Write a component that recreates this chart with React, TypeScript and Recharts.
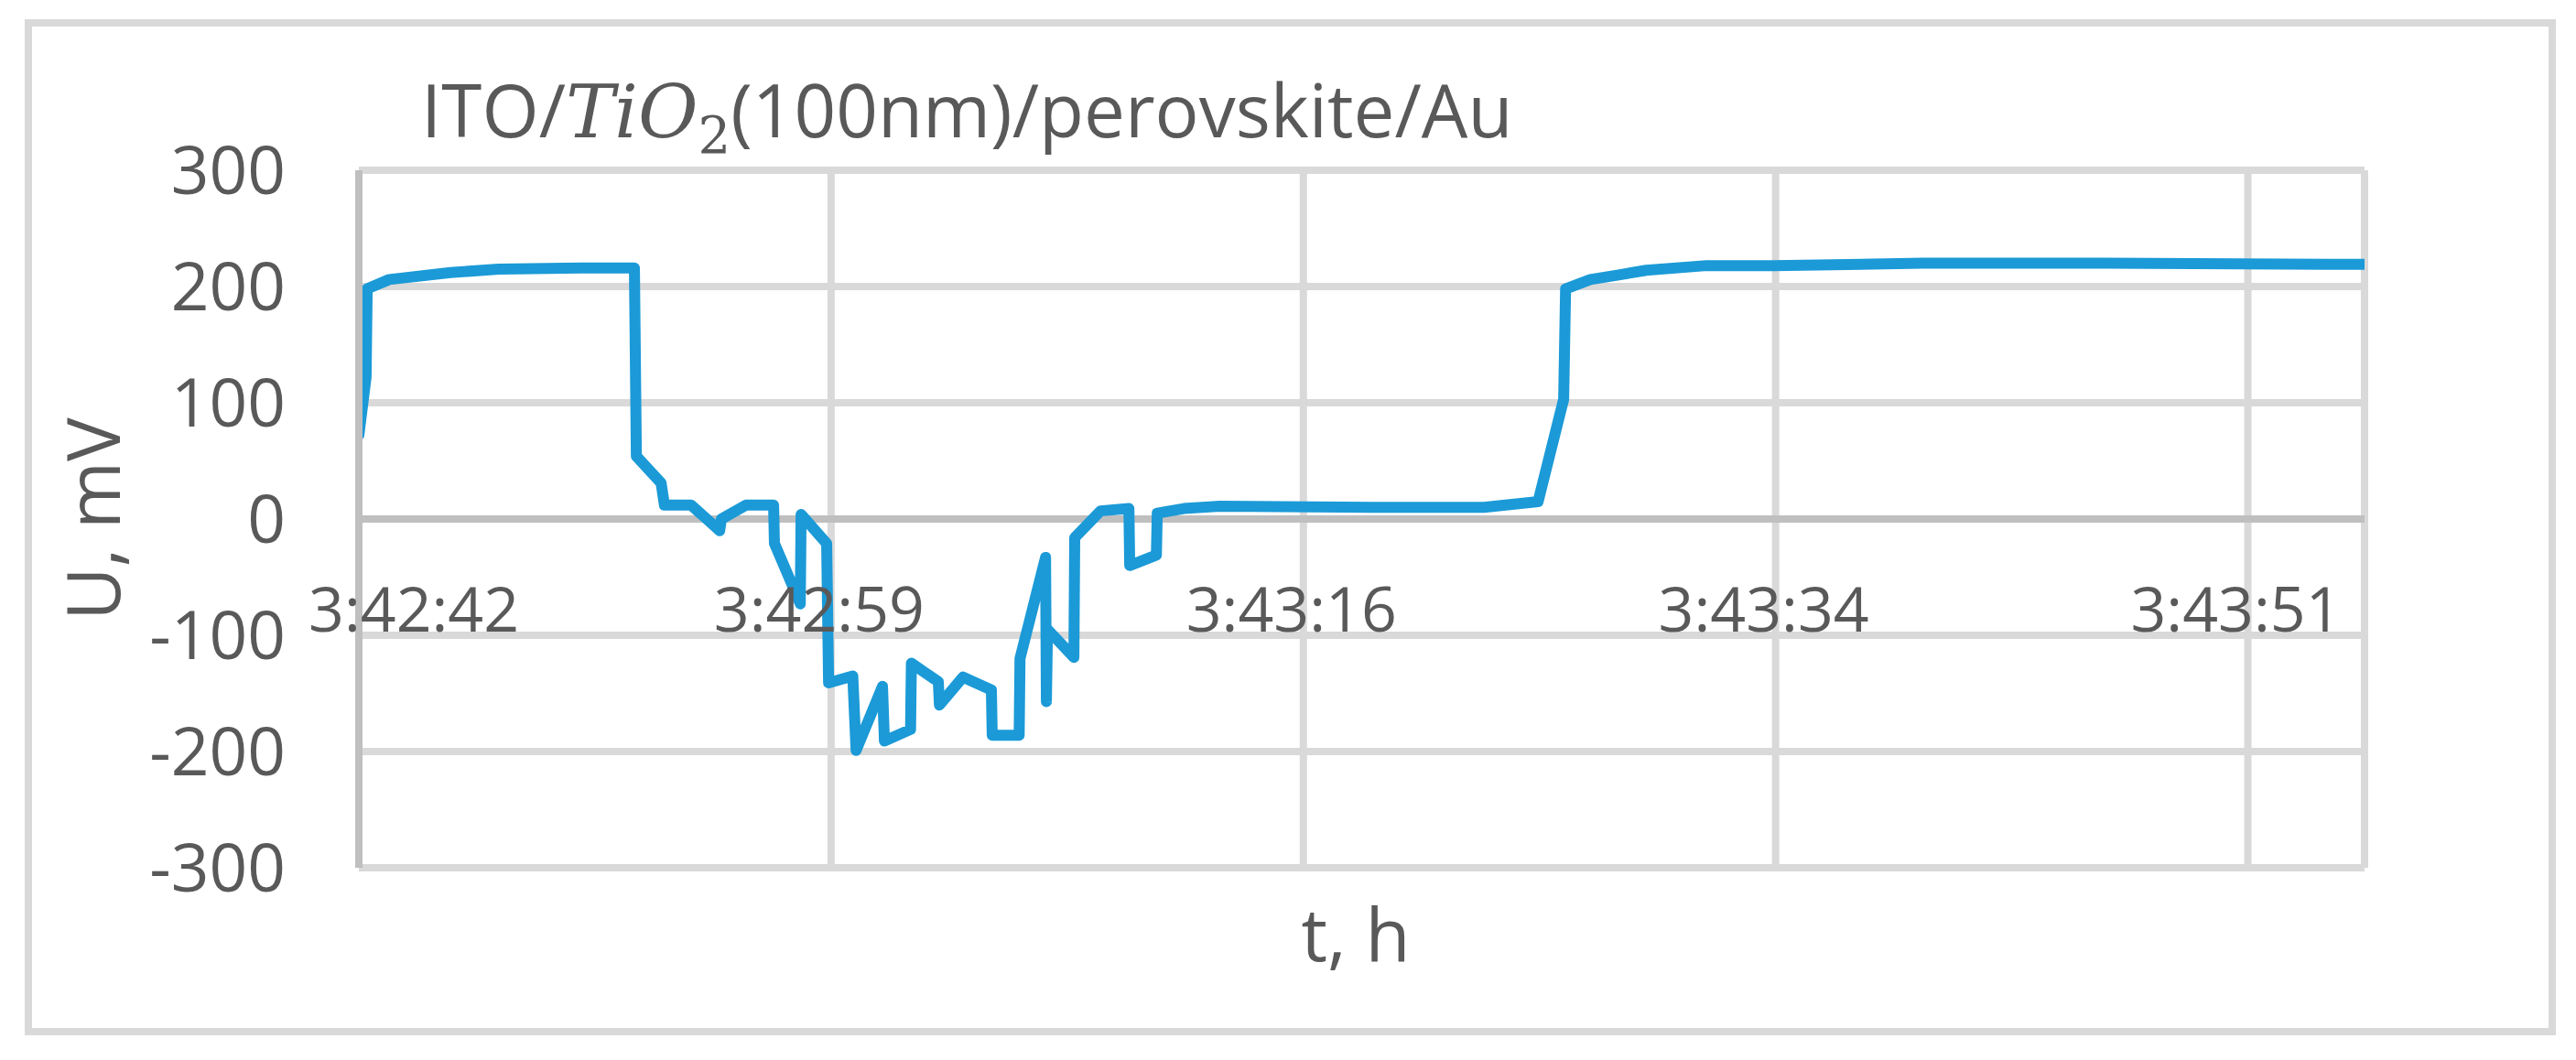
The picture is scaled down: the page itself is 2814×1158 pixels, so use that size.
import {
  LineChart,
  Line,
  XAxis,
  YAxis,
  CartesianGrid,
  ReferenceLine,
} from "recharts";

// seconds after 3:42:42
const tSec = [
  0, 0.26, 0.3, 1.09, 3.3, 5.04, 8.0, 9.92, 9.99, 10.88, 11.0, 11.96, 12.99,
  13.05, 13.94, 14.93, 14.96, 15.89, 15.92, 16.84, 16.91, 17.78, 17.9, 18.85,
  18.92, 19.86, 19.89, 20.86, 20.9, 21.75, 22.77, 22.8, 23.77, 23.8, 24.72,
  24.75, 24.79, 25.74, 25.77, 26.7, 27.72, 27.75, 28.71, 28.74, 29.7, 31.0,
  36.5, 40.5, 42.45, 43.37, 43.44, 44.33, 45.35, 46.34, 48.52, 50.9, 56.3,
  62.9, 72.2,
];

// U, mV
const uMv = [
  72, 122, 198, 206, 212, 215, 216, 216, 54, 31, 12, 12, -10, 0, 12, 12, -21,
  -73, 4, -21, -141, -135, -199, -144, -191, -181, -124, -140, -160, -136,
  -147, -186, -186, -120, -33, -157, -95, -119, -16, 7, 9, -40, -31, 5, 9, 11,
  10, 10, 15, 103, 198, 206, 210, 214, 218, 218, 220, 220, 219,
];

const xTickSec = [0, 17, 34, 51, 68];
const xTickLabels = ["3:42:42", "3:42:59", "3:43:16", "3:43:34", "3:43:51"];
const yTicks = [-300, -200, -100, 0, 100, 200, 300];

const data = tSec.map((t, i) => ({ t, u: uMv[i] }));

const TEXT = "#595959";
const GRID = "#D9D9D9";
const AXIS = "#BFBFBF";

const XTick = (props: any) => {
  const { x, y, payload, index } = props;
  const i = xTickSec.indexOf(payload.value);
  const first = index === 0;
  return (
    <text
      x={first ? x - 55 : x - 13}
      y={y - 258}
      textAnchor={first ? "start" : "middle"}
      fontFamily="Open Sans"
      fontSize={68}
      fill={TEXT}
    >
      {xTickLabels[i]}
    </text>
  );
};

const YTick = (props: any) => {
  const { x, y, payload } = props;
  return (
    <text
      x={x}
      y={y}
      dy="0.36em"
      textAnchor="end"
      fontFamily="Open Sans"
      fontSize={73}
      fill={TEXT}
    >
      {payload.value}
    </text>
  );
};

export default function App() {
  return (
    <div
      style={{
        position: "absolute",
        left: 0,
        top: 0,
        width: 2814,
        height: 1158,
        background: "#fff",
      }}
    >
      <LineChart
        width={2814}
        height={1158}
        data={data}
        margin={{ top: 186, right: 231, bottom: 0, left: 0 }}
      >
        <CartesianGrid stroke={GRID} strokeWidth={8} />
        <XAxis
          dataKey="t"
          type="number"
          domain={[0, 72.2]}
          ticks={xTickSec}
          allowDataOverflow
          axisLine={false}
          tickLine={false}
          tickSize={0}
          tickMargin={0}
          height={210}
          tick={<XTick />}
          interval={0}
        />
        <YAxis
          type="number"
          domain={[-300, 300]}
          ticks={yTicks}
          width={392}
          axisLine={{ stroke: AXIS, strokeWidth: 8 }}
          tickLine={false}
          tickSize={0}
          tickMargin={80}
          tick={<YTick />}
          interval={0}
        />
        <ReferenceLine y={0} stroke={AXIS} strokeWidth={8} />
        <Line
          type="linear"
          dataKey="u"
          stroke="#1B9AD7"
          strokeWidth={12}
          strokeLinejoin="round"
          strokeLinecap="round"
          dot={false}
          isAnimationActive={false}
        />
      </LineChart>
      <svg
        width={2814}
        height={1158}
        style={{ position: "absolute", left: 0, top: 0, pointerEvents: "none" }}
      >
        <rect
          x={31}
          y={25}
          width={2757}
          height={1102}
          fill="none"
          stroke={GRID}
          strokeWidth={8}
        />
        <text x={460} y={150} fontFamily="Open Sans" fontSize={80} fill={TEXT}>
          <tspan>ITO/</tspan>
          <tspan fontFamily="DejaVu Serif" fontStyle="italic">
            TiO
          </tspan>
          <tspan fontFamily="DejaVu Serif" fontSize={56} dy={17}>
            2
          </tspan>
          <tspan dy={-17}>(100nm)/perovskite/Au</tspan>
        </text>
        <text
          transform="translate(131, 567) rotate(-90)"
          textAnchor="middle"
          fontFamily="Open Sans"
          fontSize={80}
          fill={TEXT}
        >
          U, mV
        </text>
        <text
          x={1481}
          y={1050}
          textAnchor="middle"
          fontFamily="Open Sans"
          fontSize={80}
          fill={TEXT}
        >
          t, h
        </text>
      </svg>
    </div>
  );
}
